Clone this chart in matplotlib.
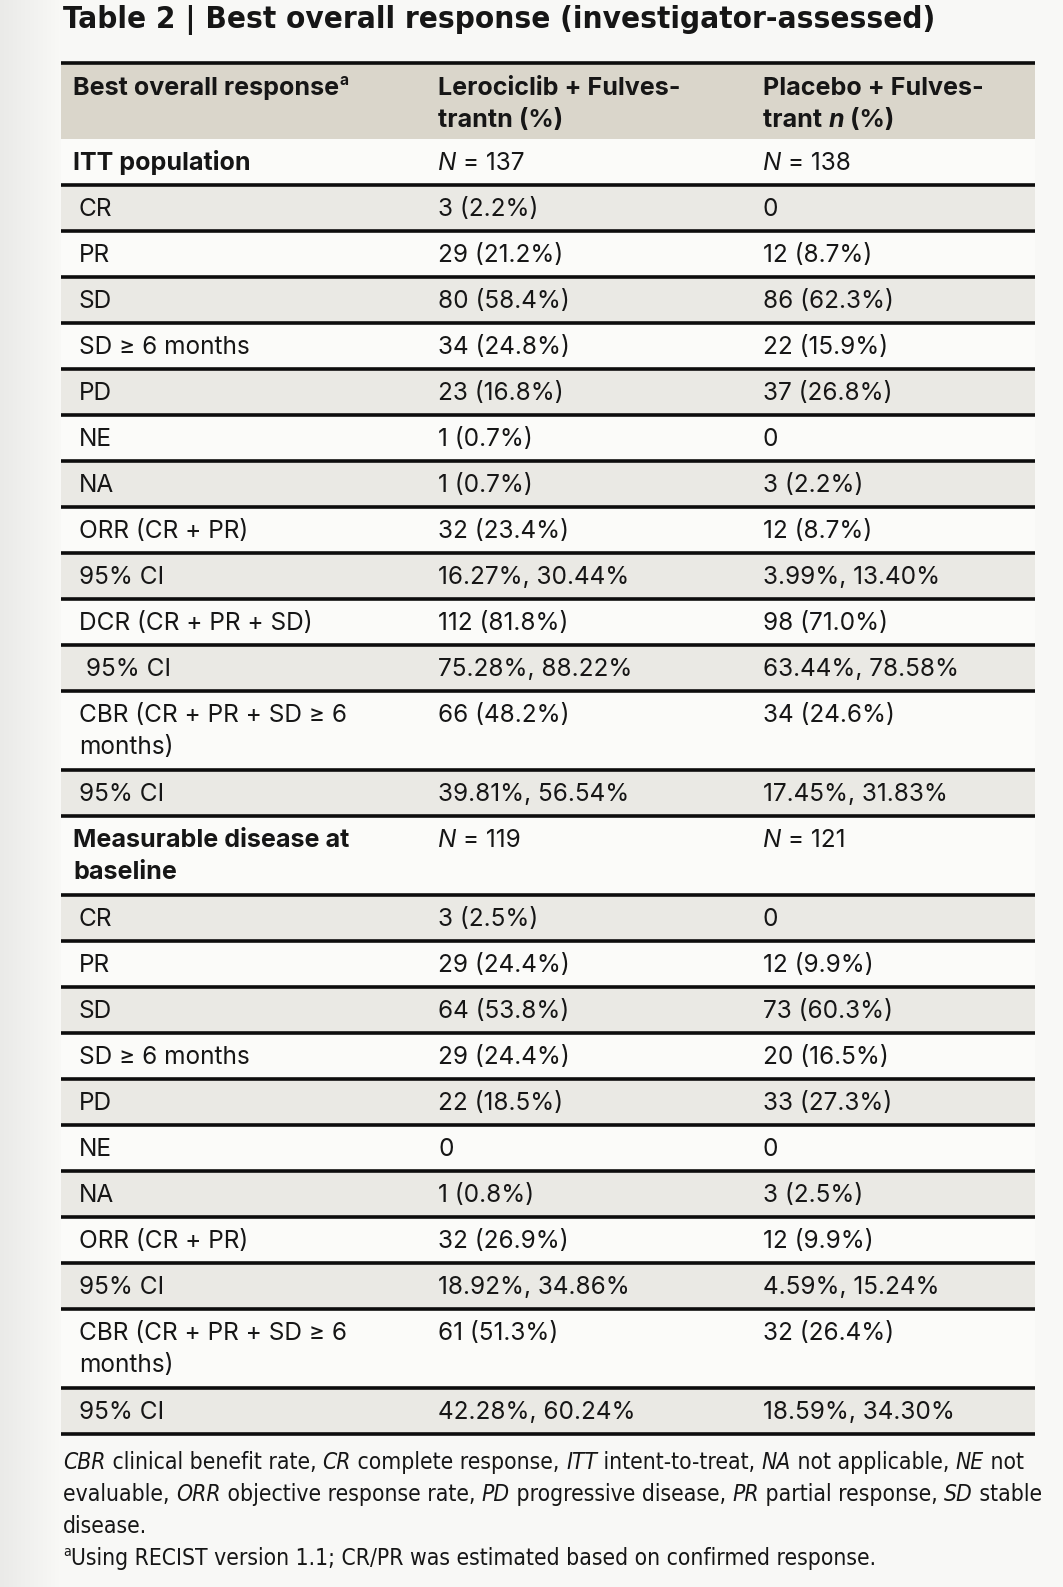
import matplotlib
matplotlib.use("Agg")
import matplotlib.pyplot as plt
import numpy as np
from matplotlib import font_manager as fm

# ---------------- data ----------------
title = "Table 2 | Best overall response (investigator-assessed)"
col_headers = ["Best overall response^a^",
               "Lerociclib + Fulves-\ntrantn (%)",
               "Placebo + Fulves-\ntrant *n* (%)"]
row_labels = ["ITT population", "CR", "PR", "SD", "SD ≥ 6 months", "PD", "NE", "NA",
              "ORR (CR + PR)", "95% CI", "DCR (CR + PR + SD)", " 95% CI",
              "CBR (CR + PR + SD ≥ 6\nmonths)", "95% CI",
              "Measurable disease at\nbaseline", "CR", "PR", "SD", "SD ≥ 6 months", "PD",
              "NE", "NA", "ORR (CR + PR)", "95% CI", "CBR (CR + PR + SD ≥ 6\nmonths)", "95% CI"]
section_rows = ["ITT population", "Measurable disease at\nbaseline"]
lerociclib_values = ["*N* = 137", "3 (2.2%)", "29 (21.2%)", "80 (58.4%)", "34 (24.8%)",
                     "23 (16.8%)", "1 (0.7%)", "1 (0.7%)", "32 (23.4%)", "16.27%, 30.44%",
                     "112 (81.8%)", "75.28%, 88.22%", "66 (48.2%)", "39.81%, 56.54%",
                     "*N* = 119", "3 (2.5%)", "29 (24.4%)", "64 (53.8%)", "29 (24.4%)",
                     "22 (18.5%)", "0", "1 (0.8%)", "32 (26.9%)", "18.92%, 34.86%",
                     "61 (51.3%)", "42.28%, 60.24%"]
placebo_values = ["*N* = 138", "0", "12 (8.7%)", "86 (62.3%)", "22 (15.9%)", "37 (26.8%)",
                  "0", "3 (2.2%)", "12 (8.7%)", "3.99%, 13.40%", "98 (71.0%)",
                  "63.44%, 78.58%", "34 (24.6%)", "17.45%, 31.83%",
                  "*N* = 121", "0", "12 (9.9%)", "73 (60.3%)", "20 (16.5%)", "33 (27.3%)",
                  "0", "3 (2.5%)", "12 (9.9%)", "4.59%, 15.24%", "32 (26.4%)", "18.59%, 34.30%"]
footnotes = ["*CBR* clinical benefit rate, *CR* complete response, *ITT* intent-to-treat, *NA* not applicable, *NE* not",
             "evaluable, *ORR* objective response rate, *PD* progressive disease, *PR* partial response, *SD* stable",
             "disease.",
             "^a^Using RECIST version 1.1; CR/PR was estimated based on confirmed response."]

# ---------------- style ----------------
W, H, DPI = 1063, 1587, 100
PX = DPI / 72.0
BG = "#f8f8f6"
HEAD_BG = "#dad6cb"
GREY_ROW = "#eae9e4"
WHITE_ROW = "#fbfbf9"
TXT = "#161616"
LINE = "#0d0d0d"
BODY = ["Inter", "DejaVu Sans"]

# pick a condensed family if one is installed
_names = {f.name for f in fm.fontManager.ttflist}
_cond = [f for f in fm.fontManager.ttflist
         if str(f.stretch) in ("condensed", "semi-condensed", "extra-condensed", "75", "87")]
NARROW_STRETCH = "normal"
if "Liberation Sans Narrow" in _names:
    NARROW = ["Liberation Sans Narrow", "DejaVu Sans"]
elif "Noto Sans Condensed" in _names:
    NARROW = ["Noto Sans Condensed", "DejaVu Sans"]
elif any(f.name == "DejaVu Sans" for f in _cond):
    NARROW = ["DejaVu Sans"]
    NARROW_STRETCH = "condensed"
elif any(f.name == "Noto Sans" for f in _cond):
    NARROW = ["Noto Sans", "DejaVu Sans"]
    NARROW_STRETCH = "condensed"
else:
    NARROW = ["Roboto", "DejaVu Sans"]

X0, X1 = 61, 1035
COL_X = [79, 438, 763]
SEC_X = 73
TOP = 63
HEAD_H = 76
ROW_H = 46
LINE_STEP = 32

fig = plt.figure(figsize=(W / DPI, H / DPI), dpi=DPI)
fig.patch.set_facecolor(BG)
ax = fig.add_axes([0, 0, 1, 1])
ax.set_xlim(0, W)
ax.set_ylim(H, 0)
ax.axis("off")
renderer = fig.canvas.get_renderer()

# subtle left shading like the scan
grad = np.linspace(0.0, 1.0, 60)[None, :]
ax.imshow(np.dstack([np.full((1, 60), c) for c in (0.92, 0.92, 0.91)] + [1 - grad]),
          extent=[0, 60, H, 0], aspect="auto", zorder=0)


def parse(s):
    segs, it, sp, buf = [], False, False, ""
    for ch in s:
        if ch in "*^":
            if buf:
                segs.append((buf, it, sp))
                buf = ""
            if ch == "*":
                it = not it
            else:
                sp = not sp
        else:
            buf += ch
    if buf:
        segs.append((buf, it, sp))
    return segs


def width(text, **kw):
    t = ax.text(0, 0, "|" + text + "|", **kw)
    w1 = t.get_window_extent(renderer).width
    t.remove()
    t = ax.text(0, 0, "||", **kw)
    w0 = t.get_window_extent(renderer).width
    t.remove()
    return w1 - w0


def seg_kw(size, family, weight, it, sp, stretch):
    return dict(fontsize=size * 0.62 if sp else size, family=family, weight=weight,
                style="italic" if it else "normal", fontstretch=stretch)


def rich(x, y, s, size, family, weight="normal", draw=True, stretch="normal"):
    for txt, it, sp in parse(s):
        kw = seg_kw(size, family, weight, it, sp, stretch)
        yy = y - size * PX * 0.40 if sp else y
        if draw:
            ax.text(x, yy, txt, va="baseline", ha="left", color=TXT, zorder=5, **kw)
        x += width(txt, **kw)
    return x


def fit(s, target, family, weight="normal", stretch="normal"):
    w = rich(0, 0, s, 10, family, weight, draw=False, stretch=stretch)
    return 10 * target / w


BODY_SIZE = fit("39.81%, 56.54%", 192, BODY)
HEAD_SIZE = fit("Best overall response", 266, BODY, "bold")
TITLE_SIZE = fit(title, 869, NARROW, "bold", NARROW_STRETCH)
FOOT_SIZE = fit(footnotes[0], 963, NARROW, stretch=NARROW_STRETCH)

# title
rich(63, 28, title, TITLE_SIZE, NARROW, "bold", stretch=NARROW_STRETCH)

# header band
ax.add_patch(plt.Rectangle((X0, TOP), X1 - X0, HEAD_H, facecolor=HEAD_BG, edgecolor="none", zorder=1))
ax.plot([X0, X1], [TOP, TOP], color=LINE, lw=2.6, solid_capstyle="butt", zorder=4)
for j, hdr in enumerate(col_headers):
    x = SEC_X if j == 0 else COL_X[j]
    for k, line in enumerate(hdr.split("\n")):
        rich(x, TOP + 32 + k * LINE_STEP, line, HEAD_SIZE, BODY, "bold")

# body rows
y = TOP + HEAD_H
for i, lab in enumerate(row_labels):
    nlines = max(len(lab.split("\n")), 1)
    h = ROW_H + (nlines - 1) * 33
    ax.add_patch(plt.Rectangle((X0, y), X1 - X0, h,
                               facecolor=GREY_ROW if i % 2 else WHITE_ROW,
                               edgecolor="none", zorder=1))
    is_sec = lab in section_rows
    cells = [lab, lerociclib_values[i], placebo_values[i]]
    for j, cell in enumerate(cells):
        x = (SEC_X if is_sec else COL_X[0]) if j == 0 else COL_X[j]
        size = HEAD_SIZE if (is_sec and j == 0) else BODY_SIZE
        weight = "bold" if (is_sec and j == 0) else "normal"
        for k, line in enumerate(cell.split("\n")):
            rich(x, y + 31 + k * LINE_STEP, line, size, BODY, weight)
    y += h
    ax.plot([X0, X1], [y, y], color=LINE, lw=2.6, solid_capstyle="butt", zorder=4)

# footnotes
fy = y + 35
for k, fn in enumerate(footnotes):
    rich(63, fy + k * 32, fn, FOOT_SIZE, NARROW, stretch=NARROW_STRETCH)

fig.savefig("out.png", dpi=DPI, facecolor=BG)
